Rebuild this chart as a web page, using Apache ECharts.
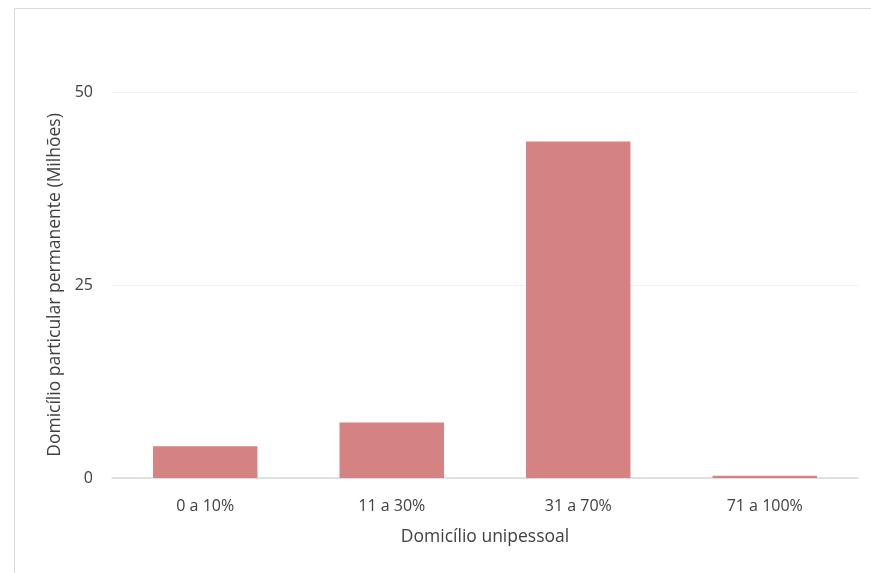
<!DOCTYPE html>
<html>
<head>
<meta charset="utf-8">
<script src="https://cdn.jsdelivr.net/npm/echarts@6/dist/echarts.min.js"></script>
<style>html,body{margin:0;padding:0;background:#fff;}#c{width:871px;height:573px;}</style>
</head>
<body>
<div id="c"></div>
<script>
const categories = ['0 a 10%', '11 a 30%', '31 a 70%', '71 a 100%'];
const values = [4.1, 7.2, 43.6, 0.3];
const yTicks = [0, 25, 50];

const chart = echarts.init(document.getElementById('c'), null, {renderer: 'canvas'});
const font = '"Open Sans", Lato, sans-serif';
const txt = '#404040';
chart.setOption({
  animation: false,
  backgroundColor: '#ffffff',
  graphic: [{
    type: 'rect', left: 12, top: 6, silent: true,
    shape: {width: 880, height: 600},
    style: {fill: 'none', stroke: '#d9d9d9', lineWidth: 1}
  }],
  grid: {left: 112, right: 13, top: 92, bottom: 95, containLabel: false},
  xAxis: {
    type: 'category',
    data: categories,
    name: 'Domicílio unipessoal',
    nameLocation: 'middle',
    nameGap: 50,
    nameTextStyle: {color: txt, fontSize: 17.5, fontFamily: font},
    axisLine: {lineStyle: {color: '#d9d9d9', width: 1.5}},
    axisTick: {show: false},
    axisLabel: {color: txt, fontSize: 16, fontFamily: font, margin: 20}
  },
  yAxis: {
    type: 'value',
    min: 0, max: 50, interval: 25,
    name: 'Domicílio particular permanente (Milhões)',
    nameLocation: 'middle',
    nameGap: 48,
    nameRotate: 90,
    nameTextStyle: {color: txt, fontSize: 17.5, fontFamily: font},
    axisLine: {show: false},
    axisTick: {show: false},
    axisLabel: {color: txt, fontSize: 16, fontFamily: font, margin: 19,
      formatter: v => yTicks.includes(v) ? String(v) : ''},
    splitLine: {lineStyle: {color: '#f0f0f0', width: 1}}
  },
  series: [{
    type: 'bar',
    data: values,
    barWidth: '56%',
    itemStyle: {color: '#d48282'}
  }]
});
</script>
</body>
</html>
